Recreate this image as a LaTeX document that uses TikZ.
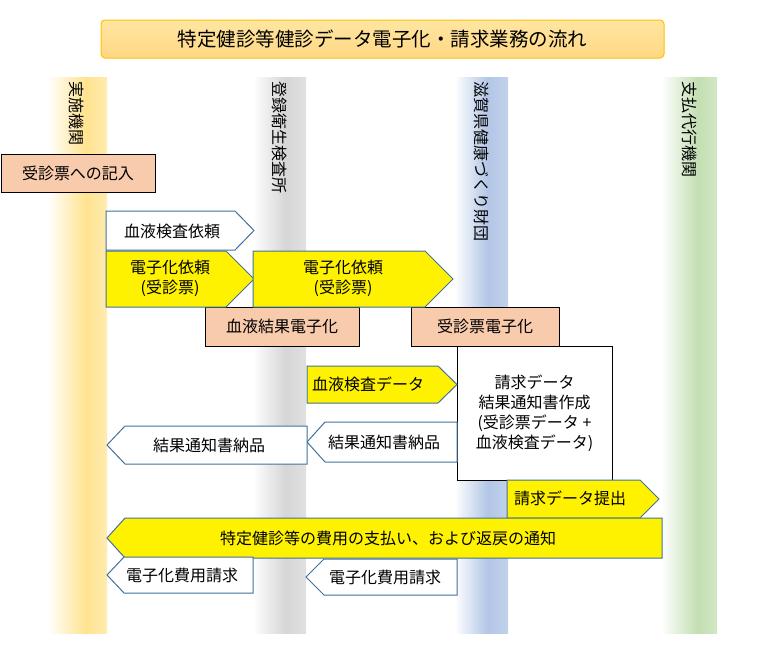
\documentclass[tikz,border=0pt]{standalone}
\usepackage{fontspec}
\setmainfont{Noto Sans CJK JP}
\usetikzlibrary{positioning}
\definecolor{lanegold}{HTML}{FFE38F}
\definecolor{lanegray}{HTML}{D6D6D6}
\definecolor{laneblue}{HTML}{B2C6E6}
\definecolor{lanegreen}{HTML}{C3DFB2}
\definecolor{edgeblue}{HTML}{41719C}
\definecolor{salmon}{HTML}{F8CBAD}
\definecolor{titletop}{HTML}{FFE6A2}
\definecolor{titlebot}{HTML}{FFD783}
\definecolor{titleedge}{HTML}{FFC000}
\pgfdeclarehorizontalshading{goldlane}{100bp}{color(0bp)=(lanegold!4!white); color(25bp)=(lanegold!4!white); color(57bp)=(lanegold); color(75bp)=(lanegold!70!white); color(100bp)=(lanegold!70!white)}
\pgfdeclarehorizontalshading{graylane}{100bp}{color(0bp)=(lanegray!8!white); color(25bp)=(lanegray!8!white); color(55bp)=(lanegray); color(75bp)=(lanegray!75!white); color(100bp)=(lanegray!75!white)}
\pgfdeclarehorizontalshading{bluelane}{100bp}{color(0bp)=(laneblue!8!white); color(25bp)=(laneblue!8!white); color(55bp)=(laneblue); color(75bp)=(laneblue!80!white); color(100bp)=(laneblue!80!white)}
\pgfdeclarehorizontalshading{greenlane}{100bp}{color(0bp)=(lanegreen!6!white); color(25bp)=(lanegreen!6!white); color(57bp)=(lanegreen); color(75bp)=(lanegreen!75!white); color(100bp)=(lanegreen!75!white)}
\tikzset{
  txt/.style={font=\fontsize{16}{20}\selectfont, align=center, inner sep=0pt},
  lanetxt/.style={txt, rotate=-90, anchor=west},
  titlebox/.style={draw=titleedge, line width=1pt, rounded corners=4pt, top color=titletop, bottom color=titlebot, font=\fontsize{19.5}{22}\selectfont},
  procbox/.style={draw=black, fill=salmon, line width=1pt, txt},
  notebox/.style={draw=black, fill=white, line width=1pt, txt},
  yarrow/.style={draw=edgeblue, fill=yellow, line width=1pt},
  warrow/.style={draw=edgeblue, fill=white, line width=1pt}
}

\begin{document}
\begin{tikzpicture}[x=1pt, y=-1pt]
  \useasboundingbox (0,0) rectangle (766,653);
  % lanes
  \shade[shading=goldlane] (49,77) rectangle (107,633);
  \shade[shading=graylane] (255,77) rectangle (306,633);
  \shade[shading=bluelane] (457,77) rectangle (508,633);
  \shade[shading=greenlane] (663,77) rectangle (717,633);
  \node[lanetxt] (jisshi) at (77,81) {実施機関};
  \node[lanetxt] (kensa) at (280,81) {登録衛生検査所};
  \node[lanetxt] (zaidan) at (482,81) {滋賀県健康づくり財団};
  \node[lanetxt] (shiharai) at (690,81) {支払代行機関};
  % title
  \node[titlebox, minimum width=563pt, minimum height=38pt] (title) at (382.5,39) {特定健診等健診データ電子化・請求業務の流れ};
  % boxes
  \node[procbox, minimum width=154pt, minimum height=38pt] (kinyu) at (78,173) {受診票への記入};
  \node[procbox, minimum width=154pt, minimum height=39pt] (ketsueki) at (282,326.5) {血液結果電子化};
  \node[procbox, minimum width=148pt, minimum height=39pt] (jushin) at (485,326.5) {受診票電子化};
  \node[notebox, minimum width=155pt, minimum height=134pt] (seikyu) at (534.5,413) {請求データ\\結果通知書作成\\(受診票データ +\\血液検査データ)};
  % block arrows
  \draw[warrow] (106,211) -- (235,211) -- (254,230.5) -- (235,250) -- (106,250) -- cycle;
  \node[txt] (irai) at (172,231) {血液検査依頼};
  \draw[yarrow] (106,251) -- (226,251) -- (254,279) -- (226,307) -- (106,307) -- cycle;
  \node[txt] (denshiA) at (170,278) {電子化依頼\\(受診票)};
  \draw[yarrow] (253,251) -- (425,251) -- (453,279) -- (425,307) -- (253,307) -- cycle;
  \node[txt] (denshiB) at (343,278) {電子化依頼\\(受診票)};
  \draw[yarrow] (307,366) -- (438,366) -- (457,384.5) -- (438,403) -- (307,403) -- cycle;
  \node[txt] (data) at (368,384) {血液検査データ};
  \draw[warrow] (457,422) -- (325,422) -- (307,442) -- (325,462) -- (457,462) -- cycle;
  \node[txt] (nohinB) at (384,442) {結果通知書納品};
  \draw[warrow] (307,426) -- (125,426) -- (107,445) -- (125,464) -- (307,464) -- cycle;
  \node[txt] (nohinA) at (209,445) {結果通知書納品};
  \draw[yarrow] (507,480) -- (640,480) -- (659,499) -- (640,518) -- (507,518) -- cycle;
  \node[txt] (teishutsu) at (570,498) {請求データ提出};
  \draw[yarrow] (662,518) -- (125,518) -- (107,538) -- (125,558) -- (662,558) -- cycle;
  \node[txt] (tsuchi) at (388,538) {特定健診等の費用の支払い、および返戻の通知};
  \draw[warrow] (253,557) -- (124,557) -- (107,575) -- (124,593) -- (253,593) -- cycle;
  \node[txt] (hiyoA) at (182,575) {電子化費用請求};
  \draw[warrow] (457,559) -- (324,559) -- (306,577) -- (324,595) -- (457,595) -- cycle;
  \node[txt] (hiyoB) at (385,577) {電子化費用請求};
\end{tikzpicture}
\end{document}
